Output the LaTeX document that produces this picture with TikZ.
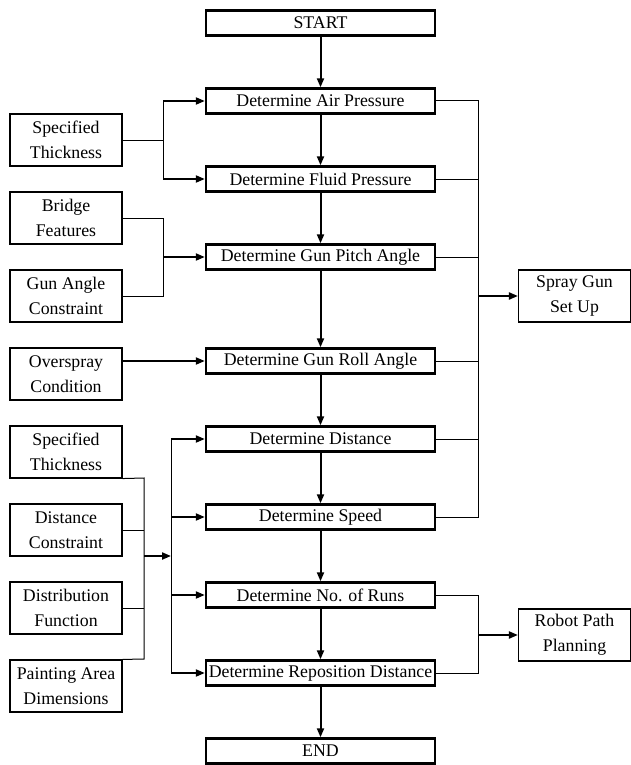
\documentclass[tikz,border=0pt]{standalone}
\usepackage{fontspec}
\setmainfont{Liberation Serif}
\usetikzlibrary{arrows.meta}
\begin{document}
\begin{tikzpicture}[x=1pt,y=-1pt,
  mainbox/.style={draw,line width=2.4pt,minimum width=229pt,minimum height=25pt,inner sep=0pt,font=\fontsize{17.8}{20}\selectfont},
  sidebox/.style={draw,line width=1.1pt,minimum width=112pt,minimum height=52pt,inner sep=0pt,align=center,font=\fontsize{17.8}{25}\selectfont},
  flow/.style={line width=2pt,-{Triangle[length=9pt,width=7pt]}},
  feed/.style={line width=2pt,-{Triangle[length=9pt,width=7pt]}},
  thinline/.style={line width=1pt}]
\useasboundingbox (0,0) rectangle (631,765);
% main column
\node[mainbox] (start) at (320.5,23) {START};
\node[mainbox] (air) at (320.5,101) {Determine Air Pressure};
\node[mainbox] (fluid) at (320.5,179) {Determine Fluid Pressure};
\node[mainbox] (pitch) at (320.5,257) {Determine Gun Pitch Angle};
\node[mainbox] (roll) at (320.5,361) {Determine Gun Roll Angle};
\node[mainbox] (dist) at (320.5,439) {Determine Distance};
\node[mainbox] (speed) at (320.5,517) {Determine Speed};
\node[mainbox] (runs) at (320.5,595) {Determine No. of Runs};
\node[mainbox] (repos) at (320.5,673) {Determine Reposition Distance};
\node[mainbox] (end) at (320.5,751) {END};
% left boxes
\node[sidebox] (st1) at (66,140) {Specified\\Thickness};
\node[sidebox] (bf) at (66,218) {Bridge\\Features};
\node[sidebox] (gac) at (66,296) {Gun Angle\\Constraint};
\node[sidebox] (ov) at (66,374) {Overspray\\Condition};
\node[sidebox] (st2) at (66,452) {Specified\\Thickness};
\node[sidebox] (dc) at (66,530) {Distance\\Constraint};
\node[sidebox] (df) at (66,608) {Distribution\\Function};
\node[sidebox] (pa) at (66,686) {Painting Area\\Dimensions};
% right boxes
\node[sidebox] (sg) at (574.5,296) {Spray Gun\\Set Up};
\node[sidebox] (rp) at (574.5,635) {Robot Path\\Planning};
% main flow
\draw[flow] (start) -- (air);
\draw[flow] (air) -- (fluid);
\draw[flow] (fluid) -- (pitch);
\draw[flow] (pitch) -- (roll);
\draw[flow] (roll) -- (dist);
\draw[flow] (dist) -- (speed);
\draw[flow] (speed) -- (runs);
\draw[flow] (runs) -- (repos);
\draw[flow] (repos) -- (end);
% left feeds
\coordinate (a1) at (163,101);
\coordinate (a2) at (163,179);
\draw[thinline] (st1.east) -- (163,140);
\draw[thinline] (a1) -- (a2);
\draw[feed] (a1) -- (air.west);
\draw[feed] (a2) -- (fluid.west);
\coordinate (b1) at (163,218);
\coordinate (b2) at (163,296);
\coordinate (b3) at (163,257);
\draw[thinline] (bf.east |- b1) -- (b1) -- (b2) -- (gac.east |- b2);
\draw[feed] (b3) -- (pitch.west);
\draw[feed] (ov.east |- roll.west) -- (roll.west);
\coordinate (c1) at (144,478);
\coordinate (c2) at (144,659);
\coordinate (c3) at (144,556);
\coordinate (d0) at (171,556);
\draw[thinline] (st2.south east) -- (c1) -- (c2) -- (pa.north east);
\draw[thinline] (dc.east) -- (dc.east -| c1);
\draw[thinline] (df.east) -- (df.east -| c1);
\draw[feed] (c3) -- (d0);
\coordinate (d1) at (171,439);
\coordinate (d2) at (171,673);
\draw[thinline] (d1) -- (d2);
\draw[feed] (d1) -- (dist.west);
\draw[feed] (d1 |- speed.west) -- (speed.west);
\draw[feed] (d1 |- runs.west) -- (runs.west);
\draw[feed] (d2) -- (repos.west);
% right bus
\coordinate (r1) at (478,101);
\coordinate (r2) at (478,517);
\draw[thinline] (air.east) -- (r1) -- (r2) -- (speed.east);
\draw[thinline] (fluid.east) -- (fluid.east -| r1);
\draw[thinline] (pitch.east) -- (pitch.east -| r1);
\draw[thinline] (roll.east) -- (roll.east -| r1);
\draw[thinline] (dist.east) -- (dist.east -| r1);
\draw[feed] (sg.west -| r1) -- (sg.west);
\coordinate (s1) at (478,595);
\coordinate (s2) at (478,673);
\draw[thinline] (runs.east) -- (s1) -- (s2) -- (repos.east);
\draw[feed] (rp.west -| s1) -- (rp.west);
\end{tikzpicture}
\end{document}
